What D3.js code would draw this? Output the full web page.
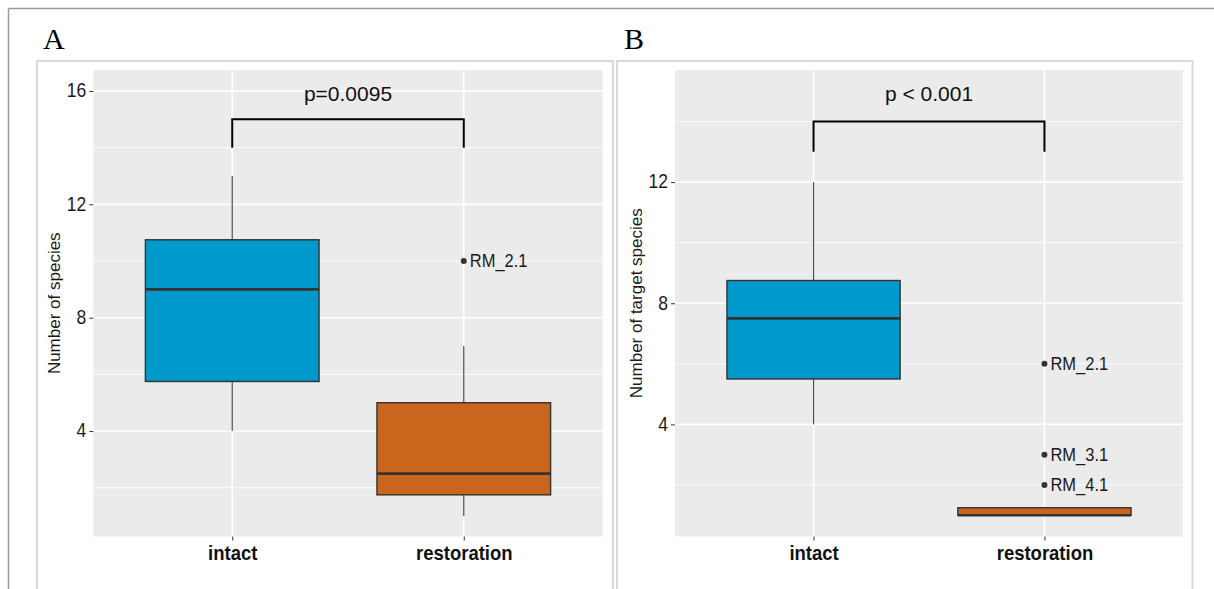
<!DOCTYPE html>
<html>
<head>
<meta charset="utf-8">
<script src="https://cdn.jsdelivr.net/npm/d3@7.9.0/dist/d3.min.js"></script>
<style>
  body { margin: 0; background: #fff; }
  svg { display: block; font-family: "Liberation Sans", Arial, sans-serif; }
</style>
</head>
<body>
<svg id="chart" width="1214" height="589"></svg>
<script>
// groups on the x axis
const groups = ['intact', 'restoration'];

// panel A - number of species (box stats per group)
const speciesLow = [4, 1];
const speciesQ1 = [5.75, 1.75];
const speciesMedian = [9, 2.5];
const speciesQ3 = [10.75, 5];
const speciesHigh = [13, 7];
const speciesOutGroup = ['restoration'];
const speciesOutValue = [10];
const speciesOutLabel = ['RM_2.1'];
const speciesTicks = [4, 8, 12, 16];

// panel B - number of target species
const targetLow = [4, 1];
const targetQ1 = [5.5, 1];
const targetMedian = [7.5, 1];
const targetQ3 = [8.75, 1.25];
const targetHigh = [12, 1.25];
const targetOutGroup = ['restoration', 'restoration', 'restoration'];
const targetOutValue = [6, 3, 2];
const targetOutLabel = ['RM_2.1', 'RM_3.1', 'RM_4.1'];
const targetTicks = [4, 8, 12];

// significance brackets
const pLabels = ['p=0.0095', 'p < 0.001'];
const bracketTop = [15, 14];
const bracketBottom = [14, 13];
const pLabelY = [15.9, 14.92];

const fills = ['#0099cc', '#c9651c'];
const stretch = 1.12; // the source figure's text looks a bit tall

const svg = d3.select('#chart');

// outer figure frame (top + left only)
svg.append('line').attr('x1', 8.5).attr('x2', 1214).attr('y1', 8.5).attr('y2', 8.5)
  .attr('stroke', '#9a9a9a').attr('stroke-width', 1.5);
svg.append('line').attr('x1', 8.5).attr('x2', 8.5).attr('y1', 8.5).attr('y2', 589)
  .attr('stroke', '#9a9a9a').attr('stroke-width', 1.5);

function drawPanel(opt) {
  const g = svg.append('g');

  // light frame round the panel
  g.append('rect')
    .attr('x', opt.frame[0]).attr('y', opt.frame[1])
    .attr('width', opt.frame[2] - opt.frame[0]).attr('height', 600)
    .attr('fill', 'none').attr('stroke', '#d9d9d9').attr('stroke-width', 2);

  g.append('text').attr('x', opt.letterX).attr('y', 49)
    .attr('font-family', '"Liberation Serif", "Times New Roman", serif')
    .attr('font-size', 30).attr('fill', '#000').text(opt.letter);

  const x = d3.scalePoint().domain(groups).range([opt.left, opt.right]).padding(0.6);
  const y = d3.scaleLinear().domain(opt.yDomain).range([opt.bottom, opt.top]);
  const step = x.step();
  const boxW = step * 0.75;

  g.append('rect')
    .attr('x', opt.left).attr('y', opt.top)
    .attr('width', opt.right - opt.left).attr('height', opt.bottom - opt.top)
    .attr('fill', '#ebebeb');

  // minor grid (midpoints between major ticks)
  const minor = [];
  for (let v = 2; v < opt.yDomain[1]; v += 4) minor.push(v);
  g.selectAll('.minor').data(minor).join('line')
    .attr('x1', opt.left).attr('x2', opt.right)
    .attr('y1', d => y(d)).attr('y2', d => y(d))
    .attr('stroke', '#fff').attr('stroke-width', 0.8);

  g.selectAll('.major').data(opt.ticks).join('line')
    .attr('x1', opt.left).attr('x2', opt.right)
    .attr('y1', d => y(d)).attr('y2', d => y(d))
    .attr('stroke', '#fff').attr('stroke-width', 1.6);

  g.selectAll('.vgrid').data(groups).join('line')
    .attr('x1', d => x(d)).attr('x2', d => x(d))
    .attr('y1', opt.top).attr('y2', opt.bottom)
    .attr('stroke', '#fff').attr('stroke-width', 1.6);

  // y axis
  const yAxis = g.append('g').attr('transform', `translate(${opt.left},0)`)
    .call(d3.axisLeft(y).tickValues(opt.ticks).tickSize(4).tickPadding(3));
  yAxis.select('.domain').remove();
  yAxis.selectAll('line').attr('stroke', '#333');
  yAxis.selectAll('text').attr('font-size', 17.5).attr('fill', '#1a1a1a')
    .attr('dy', '0.3em').attr('transform', `scale(1,${stretch})`)
    .attr('font-family', '"Liberation Sans", Arial, sans-serif');

  // x axis
  const xAxis = g.append('g').attr('transform', `translate(0,${opt.bottom})`)
    .call(d3.axisBottom(x).tickSize(4).tickPadding(3.5));
  xAxis.select('.domain').remove();
  xAxis.selectAll('line').attr('stroke', '#333');
  xAxis.selectAll('text').attr('font-size', 18.5).attr('font-weight', 'bold').attr('fill', '#111')
    .attr('transform', `scale(1,${stretch})`)
    .attr('font-family', '"Liberation Sans", Arial, sans-serif');

  g.append('text')
    .attr('transform', `translate(${opt.titleX},${(opt.top + opt.bottom) / 2}) rotate(-90)`)
    .attr('text-anchor', 'middle').attr('dy', '0.35em')
    .attr('font-size', 17).attr('fill', '#1a1a1a').text(opt.title);

  // whiskers
  groups.forEach((grp, i) => {
    g.append('line').attr('x1', x(grp)).attr('x2', x(grp))
      .attr('y1', y(opt.q3[i])).attr('y2', y(opt.high[i]))
      .attr('stroke', '#4d4d4d').attr('stroke-width', 1.2);
    g.append('line').attr('x1', x(grp)).attr('x2', x(grp))
      .attr('y1', y(opt.q1[i])).attr('y2', y(opt.low[i]))
      .attr('stroke', '#4d4d4d').attr('stroke-width', 1.2);
  });

  g.selectAll('.box').data(groups).join('rect')
    .attr('x', d => x(d) - boxW / 2)
    .attr('y', (d, i) => y(opt.q3[i]))
    .attr('width', boxW)
    .attr('height', (d, i) => y(opt.q1[i]) - y(opt.q3[i]))
    .attr('fill', (d, i) => fills[i])
    .attr('stroke', '#333').attr('stroke-width', 1.4);

  g.selectAll('.median').data(groups).join('line')
    .attr('x1', d => x(d) - boxW / 2).attr('x2', d => x(d) + boxW / 2)
    .attr('y1', (d, i) => y(opt.median[i])).attr('y2', (d, i) => y(opt.median[i]))
    .attr('stroke', '#333').attr('stroke-width', 2.6);

  // outliers with labels
  opt.outValue.forEach((v, i) => {
    const cx = x(opt.outGroup[i]);
    g.append('circle').attr('cx', cx).attr('cy', y(v)).attr('r', 3).attr('fill', '#333');
    g.append('text').attr('transform', `translate(${cx + 6},${y(v)}) scale(1,${stretch})`)
      .attr('dy', '0.35em')
      .attr('font-size', 16.5).attr('fill', '#1a1a1a').text(opt.outLabel[i]);
  });

  // significance bracket
  const bx1 = x(groups[0]), bx2 = x(groups[1]);
  g.append('path')
    .attr('d', `M${bx1},${y(opt.bBottom)}V${y(opt.bTop)}H${bx2}V${y(opt.bBottom)}`)
    .attr('fill', 'none').attr('stroke', '#000').attr('stroke-width', 2);
  g.append('text').attr('x', (bx1 + bx2) / 2).attr('y', y(opt.pY)).attr('dy', '0.35em')
    .attr('text-anchor', 'middle').attr('font-size', 21).attr('fill', '#111').text(opt.pLabel);
}

drawPanel({
  letter: 'A', letterX: 43, frame: [37, 61, 613],
  left: 93.3, right: 602.7, top: 70, bottom: 536.5,
  yDomain: [0.28, 16.74], ticks: speciesTicks, titleX: 54,
  title: 'Number of species',
  low: speciesLow, q1: speciesQ1, median: speciesMedian, q3: speciesQ3, high: speciesHigh,
  outGroup: speciesOutGroup, outValue: speciesOutValue, outLabel: speciesOutLabel,
  bTop: bracketTop[0], bBottom: bracketBottom[0], pY: pLabelY[0], pLabel: pLabels[0]
});

drawPanel({
  letter: 'B', letterX: 624, frame: [617, 61, 1192.5],
  left: 675, right: 1183, top: 70, bottom: 536.5,
  yDomain: [0.3, 15.7], ticks: targetTicks, titleX: 636,
  title: 'Number of target species',
  low: targetLow, q1: targetQ1, median: targetMedian, q3: targetQ3, high: targetHigh,
  outGroup: targetOutGroup, outValue: targetOutValue, outLabel: targetOutLabel,
  bTop: bracketTop[1], bBottom: bracketBottom[1], pY: pLabelY[1], pLabel: pLabels[1]
});
</script>
</body>
</html>
